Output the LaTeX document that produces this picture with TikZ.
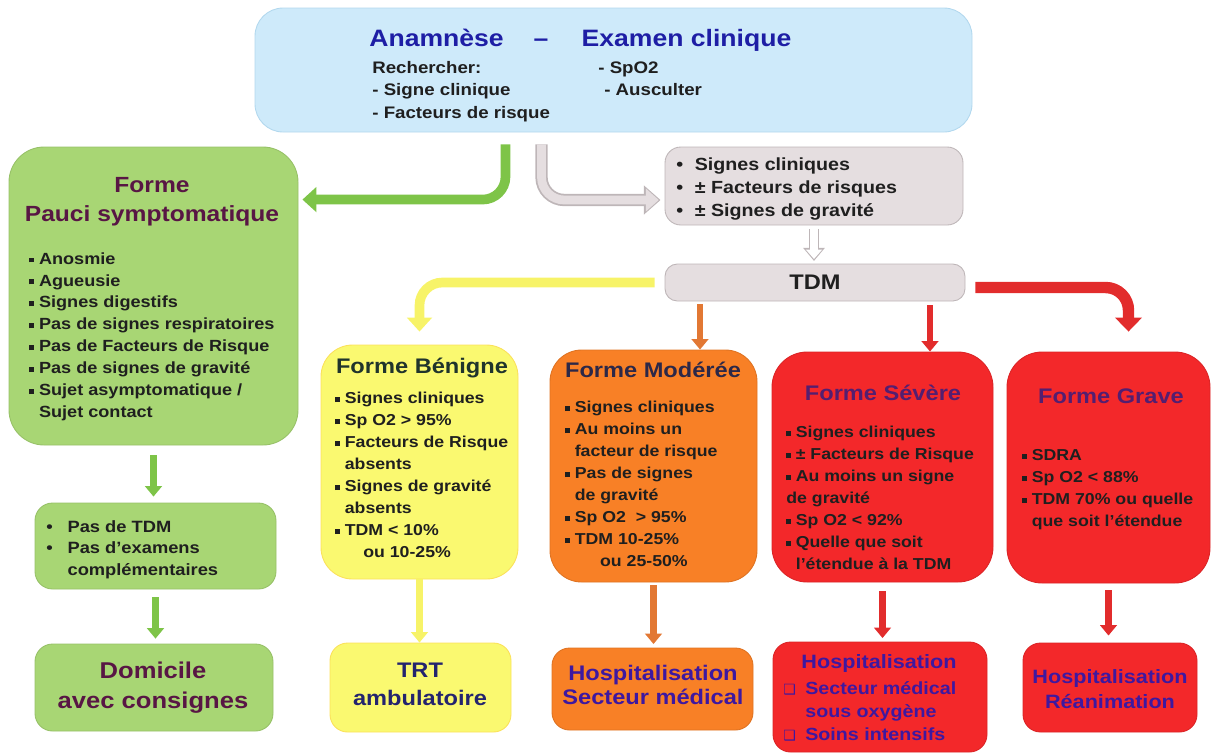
\documentclass[tikz,border=0pt]{standalone}
\usepackage{fontspec}
\setmainfont{Liberation Sans}[FakeStretch=1.12]
\newfontfamily\dejavu{DejaVu Sans}
\usepackage{tikz}
\usetikzlibrary{arrows.meta, positioning, fit, calc}
\definecolor{anamblue}{RGB}{206,234,250}
\definecolor{anamedge}{RGB}{178,216,238}
\definecolor{titleblue}{RGB}{30,30,165}
\definecolor{paucigreen}{RGB}{168,214,116}
\definecolor{arrowgreen}{RGB}{126,196,72}
\definecolor{plumtext}{RGB}{88,22,68}
\definecolor{signgrey}{RGB}{229,222,224}
\definecolor{signedge}{RGB}{190,182,184}
\definecolor{benyellow}{RGB}{250,249,112}
\definecolor{arrowyellow}{RGB}{247,243,104}
\definecolor{modorange}{RGB}{248,128,38}
\definecolor{arroworange}{RGB}{226,120,52}
\definecolor{sevred}{RGB}{243,40,42}
\definecolor{arrowred}{RGB}{226,44,44}
\definecolor{darkteal}{RGB}{32,52,44}
\definecolor{darknavy}{RGB}{44,40,72}
\definecolor{sevpurple}{RGB}{84,30,112}
\definecolor{hospblue}{RGB}{62,24,160}
\definecolor{trtnavy}{RGB}{36,36,110}
% small square bullets
\newcommand{\sqb}{\makebox[0.6em][l]{\raisebox{0.2ex}{\rule{0.3em}{0.3em}}}}
\newcommand{\sqi}{\hspace*{0.6em}}
\newcommand{\bul}[1]{\makebox[#1][l]{\textbullet}}
\newcommand{\chk}{\makebox[12.5pt][l]{{\dejavu\fontsize{8}{8}\selectfont ❑}}}

\begin{document}
\begin{tikzpicture}[x=0.02cm, y=-0.02cm,
    formbox/.style={draw, rounded corners=14pt, inner sep=0pt, line width=0.5pt},
    formtitle/.style={font=\bfseries\fontsize{12}{15}\selectfont, align=center, inner sep=0pt},
    listtext/.style={font=\bfseries\fontsize{9}{12.5}\selectfont, align=left, inner sep=0pt, anchor=north west, text=black!88},
    bigarrow/.style={line width=5.5pt, rounded corners=13pt, -{Triangle[width=14pt,length=8pt]}},
    downarrow/.style={line width=3.6pt, -{Triangle[width=9.5pt,length=6pt]}}]
    \useasboundingbox (0,0) rectangle (1213,755);

    % Anamnese
    \node[formbox, fill=anamblue, draw=anamedge, rounded corners=16pt, fit={(255,8) (972,132)}] (anam) {};
    \node[font=\bfseries\fontsize{13.5}{16}\selectfont, text=titleblue, anchor=base west, inner sep=0pt] (anamT) at (369,46) {Anamnèse\hspace{17pt}–\hspace{19pt}Examen clinique};
    \node[listtext, font=\bfseries\fontsize{9.5}{12.8}\selectfont] (anamL) at (372,61) {Rechercher:\\- Signe clinique\\- Facteurs de risque};
    \node[listtext, font=\bfseries\fontsize{9.5}{12.8}\selectfont] (anamR) at (598,61) {- SpO2\\\hspace*{3.4pt}- Ausculter};

    % Forme pauci symptomatique
    \node[formbox, fill=paucigreen, draw=paucigreen!90!black, rounded corners=20pt, fit={(9,147) (298,445)}] (pauci) {};
    \node[formtitle, font=\bfseries\fontsize{12.5}{16.4}\selectfont, text=plumtext] (pauciT) at (152,202) {Forme\\Pauci symptomatique};
    \node[listtext, font=\bfseries\fontsize{9.2}{12.5}\selectfont] (pauciL) at (29,252) {\sqb Anosmie\\\sqb Agueusie\\\sqb Signes digestifs\\\sqb Pas de signes respiratoires\\\sqb Pas de Facteurs de Risque\\\sqb Pas de signes de gravité\\\sqb Sujet asymptomatique /\\\sqi Sujet contact};

    \node[formbox, fill=paucigreen, draw=paucigreen!90!black, rounded corners=10pt, fit={(35,503) (276,589)}] (notdm) {};
    \node[listtext, font=\bfseries\fontsize{9.3}{12.2}\selectfont] (notdmL) at (46,520) {\bul{1.3em}Pas de TDM\\\bul{1.3em}Pas d’examens\\\hspace*{1.3em}complémentaires};

    \node[formbox, fill=paucigreen, draw=paucigreen!90!black, rounded corners=10pt, fit={(35,644) (273,731)}] (domicile) {};
    \node[formtitle, font=\bfseries\fontsize{13}{17}\selectfont, text=plumtext] (domicileT) at (153,688) {Domicile\\avec consignes};

    % Signes et TDM
    \node[formbox, fill=signgrey, draw=signedge, rounded corners=9pt, fit={(665,147) (963,225)}] (signs) {};
    \node[listtext, font=\bfseries\fontsize{10}{13.3}\selectfont] (signsL) at (676,157) {\bul{1.05em}Signes cliniques\\\bul{1.05em}± Facteurs de risques\\\bul{1.05em}± Signes de gravité};
    \node[formbox, fill=signgrey, draw=signedge, rounded corners=7pt, fit={(665,264) (965,301)}] (tdm) {};
    \node[formtitle, text=black!88] (tdmT) at (tdm.center) {TDM};

    % Formes
    \node[formbox, fill=benyellow, draw=benyellow!80!orange, rounded corners=18pt, fit={(321,345) (518,579)}] (benigne) {};
    \node[formtitle, text=darkteal] (benigneT) at (422,368) {Forme Bénigne};
    \node[listtext] (benigneL) at (335,392) {\sqb Signes cliniques\\\sqb Sp O2 > 95\%\\\sqb Facteurs de Risque\\\sqi absents\\\sqb Signes de gravité\\\sqi absents\\\sqb TDM < 10\%\\\hspace*{15.9pt}ou 10-25\%};

    \node[formbox, fill=modorange, draw=modorange!90!black, rounded corners=18pt, fit={(550,350) (757,582)}] (moderee) {};
    \node[formtitle, text=darknavy] (modereeT) at (653,370) {Forme Modérée};
    \node[listtext] (modereeL) at (565,401) {\sqb Signes cliniques\\\sqb Au moins un\\\sqi facteur de risque\\\sqb Pas de signes\\\sqi de gravité\\\sqb Sp O2 \ > 95\%\\\sqb TDM 10-25\%\\\hspace*{19.8pt}ou 25-50\%};

    \node[formbox, fill=sevred, draw=sevred!90!black, rounded corners=20pt, fit={(772,352) (993,582)}] (severe) {};
    \node[formtitle, text=sevpurple] (severeT) at (883,393) {Forme Sévère};
    \node[listtext] (severeL) at (786,426) {\sqb Signes cliniques\\\sqb ± Facteurs de Risque\\\sqb Au moins un signe\\de gravité\\\sqb Sp O2 < 92\%\\\sqb Quelle que soit\\\sqi l’étendue à la TDM};

    \node[formbox, fill=sevred, draw=sevred!90!black, rounded corners=20pt, fit={(1007,352) (1210,583)}] (grave) {};
    \node[formtitle, text=sevpurple] (graveT) at (1111,396) {Forme Grave};
    \node[listtext] (graveL) at (1022,449) {\sqb SDRA\\\sqb Sp O2 < 88\%\\\sqb TDM 70\% ou quelle\\\sqi que soit l’étendue};

    % Prise en charge
    \node[formbox, fill=benyellow, draw=benyellow!80!orange, rounded corners=10pt, fit={(330,643) (511,732)}] (trt) {};
    \node[formtitle, font=\bfseries\fontsize{12}{15.9}\selectfont, text=trtnavy] (trtT) at (420,684) {TRT\\ambulatoire};

    \node[formbox, fill=modorange, draw=modorange!90!black, rounded corners=10pt, fit={(552,648) (753,730)}] (orhosp) {};
    \node[formtitle, font=\bfseries\fontsize{12}{13.6}\selectfont, text=hospblue] (orhospT) at (653,685) {Hospitalisation\\Secteur médical};

    \node[formbox, fill=sevred, draw=sevred!90!black, rounded corners=10pt, fit={(773,642) (987,752)}] (redhosp) {};
    \node[formtitle, font=\bfseries\fontsize{11}{13}\selectfont, text=hospblue] (redhospT) at (879,663) {Hospitalisation};
    \node[listtext, font=\bfseries\fontsize{10}{13.3}\selectfont, text=hospblue] (redhospL) at (783,681) {\chk Secteur médical\\\hspace*{12.5pt}sous oxygène\\\chk Soins intensifs};

    \node[formbox, fill=sevred, draw=sevred!90!black, rounded corners=10pt, fit={(1023,643) (1197,732)}] (rea) {};
    \node[formtitle, font=\bfseries\fontsize{11}{14.2}\selectfont, text=hospblue] (reaT) at (1110,689) {Hospitalisation\\Réanimation};

    % Connections
    \draw[bigarrow, arrowgreen] ($(anam.south)+(-108,12)$) |- ($(pauci.north east)+(4,53)$);
    \draw[bigarrow, signedge, line width=7pt, -{Triangle[width=16pt,length=9.5pt]}] ($(anam.south)+(-72,12)$) |- ($(signs.west)+(-4,14)$);
    \draw[bigarrow, signgrey, line width=5pt, -{Triangle[width=12.5pt,length=7.3pt]}, shorten >=1pt] ($(anam.south)+(-72,12)$) |- ($(signs.west)+(-4,14)$);

    \draw[line width=6pt, signedge, -{Triangle[width=12pt,length=7.5pt]}, shorten <=2pt, shorten >=1.5pt] (signs.south) -- (signs.south |- tdm.north);
    \draw[line width=4.2pt, white, -{Triangle[width=9pt,length=5.4pt]}, shorten <=2pt, shorten >=2.6pt] (signs.south) -- (signs.south |- tdm.north);

    \draw[bigarrow, arrowyellow] ($(tdm.west)+(-10,0)$) -| ($(benigne.north)+(0,-13)$);
    \draw[downarrow, arroworange] ($(tdm.south)+(-115,3)$) coordinate (o1) -- (o1 |- moderee.north);
    \draw[downarrow, arrowred] ($(tdm.south)+(115,4)$) coordinate (r1) -- (r1 |- severe.north);
    \draw[bigarrow, arrowred, line width=6.5pt, -{Triangle[width=15pt,length=8pt]}] ($(tdm.east)+(10,5)$) -| ($(grave.north)+(20,-20)$);

    \draw[downarrow, arrowgreen, shorten <=5.5pt, shorten >=3.4pt] (pauci.south) -- (pauci.south |- notdm.north);
    \draw[downarrow, arrowgreen, shorten <=4.5pt, shorten >=2.8pt] (notdm.south) -- (notdm.south |- domicile.north);
    \draw[downarrow, arrowyellow] (benigne.south) -- (benigne.south |- trt.north);
    \draw[downarrow, arroworange, shorten <=1.5pt, shorten >=2pt] (moderee.south) -- (moderee.south |- orhosp.north);
    \draw[downarrow, arrowred, shorten <=5pt, shorten >=2pt] (severe.south) -- (severe.south |- redhosp.north);
    \draw[downarrow, arrowred, shorten <=4pt, shorten >=4pt] (grave.south) -- (grave.south |- rea.north);
\end{tikzpicture}
\end{document}
